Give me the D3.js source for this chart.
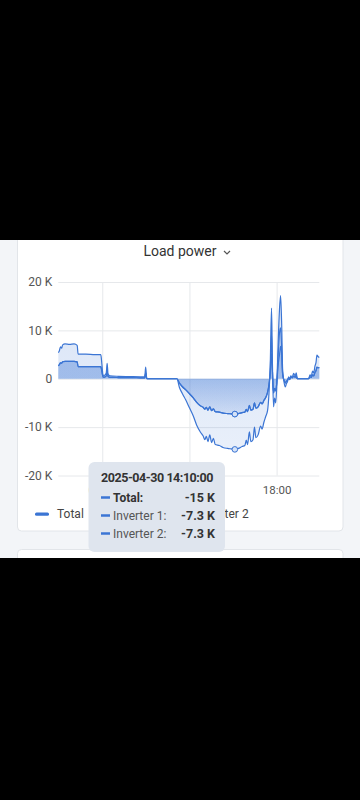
<!DOCTYPE html>
<html><head><meta charset="utf-8">
<script src="https://cdn.jsdelivr.net/npm/d3@7"></script>
<style>
html,body{margin:0;padding:0;background:#000;}
svg{display:block;font-family:Roboto,"Noto Sans",sans-serif;}
</style></head><body>
<svg id="c" width="360" height="800"></svg>
<script>
// ---- data (W) ----
const times = [
"2025-04-29 21:58","2025-04-29 22:04","2025-04-29 22:10","2025-04-29 22:16","2025-04-29 22:22","2025-04-29 22:35",
"2025-04-29 23:00","2025-04-29 23:25","2025-04-29 23:42","2025-04-29 23:47","2025-04-30 00:30","2025-04-30 01:20",
"2025-04-30 01:52","2025-04-30 01:58","2025-04-30 02:04","2025-04-30 02:12","2025-04-30 02:22","2025-04-30 02:27",
"2025-04-30 02:32","2025-04-30 02:42","2025-04-30 03:30","2025-04-30 04:30","2025-04-30 05:30","2025-04-30 05:54",
"2025-04-30 05:59","2025-04-30 06:05","2025-04-30 06:10","2025-04-30 08:51","2025-04-30 09:05","2025-04-30 09:20",
"2025-04-30 09:40","2025-04-30 10:00","2025-04-30 10:20","2025-04-30 10:40","2025-04-30 11:00","2025-04-30 11:15",
"2025-04-30 11:25","2025-04-30 11:33","2025-04-30 11:42","2025-04-30 11:52","2025-04-30 12:02","2025-04-30 12:12",
"2025-04-30 12:22","2025-04-30 12:45","2025-04-30 13:05","2025-04-30 13:30","2025-04-30 13:50","2025-04-30 14:10",
"2025-04-30 14:30","2025-04-30 14:50","2025-04-30 15:05","2025-04-30 15:13","2025-04-30 15:20","2025-04-30 15:30",
"2025-04-30 15:38","2025-04-30 15:50","2025-04-30 15:58","2025-04-30 16:06","2025-04-30 16:18","2025-04-30 16:32",
"2025-04-30 16:40","2025-04-30 16:50","2025-04-30 17:00","2025-04-30 17:10","2025-04-30 17:18","2025-04-30 17:25",
"2025-04-30 17:32","2025-04-30 17:37","2025-04-30 17:43","2025-04-30 17:49","2025-04-30 17:55","2025-04-30 18:02",
"2025-04-30 18:09","2025-04-30 18:16","2025-04-30 18:22","2025-04-30 18:28","2025-04-30 18:33","2025-04-30 18:40",
"2025-04-30 18:48","2025-04-30 18:54","2025-04-30 19:00","2025-04-30 19:06","2025-04-30 19:12","2025-04-30 19:18",
"2025-04-30 19:26","2025-04-30 19:34","2025-04-30 19:42","2025-04-30 19:48","2025-04-30 19:54","2025-04-30 20:56",
"2025-04-30 21:04","2025-04-30 21:11","2025-04-30 21:18","2025-04-30 21:24","2025-04-30 21:31","2025-04-30 21:37",
"2025-04-30 21:42","2025-04-30 21:48","2025-04-30 21:55"];
const total = [
5400,5800,6600,6300,7000,7200,
7100,7200,6900,5100,5100,5000,
5000,3000,800,700,1200,3200,
900,600,500,450,400,400,
2400,100,0,0,-1800,-3000,
-4400,-6000,-7600,-9600,-11000,-11800,
-12600,-11900,-13000,-11600,-13200,-12300,
-13600,-13800,-14200,-14400,-14500,-14600,
-14400,-14000,-13800,-12700,-13600,-11000,
-13000,-12600,-10000,-12200,-11600,-9800,
-10400,-9000,-7800,-6600,-3000,3000,
14600,3000,-5800,-4000,-5000,-500,
8000,14500,17200,11000,2000,-500,
-1700,-1000,-600,400,-200,600,
400,1100,600,1200,0,0,
800,600,1600,1200,2600,3400,
4900,4600,4400];
const inverter1 = [
2700,2900,3300,3200,3500,3600,
3600,3600,3500,2500,2500,2500,
2500,1500,400,350,600,1600,
450,300,250,220,200,200,
1200,50,0,0,-900,-1600,
-2300,-3100,-3900,-4900,-5600,-5900,
-6300,-5900,-6500,-5800,-6600,-6200,
-6800,-6900,-7100,-7200,-7250,-7300,
-7200,-7000,-6900,-6300,-6800,-5500,
-6500,-6300,-5000,-6100,-5800,-4900,
-5200,-4500,-3900,-2800,-1200,1800,
9400,1500,-2900,-2000,-2500,-250,
5000,9500,10500,6000,1000,-250,
-850,-500,-300,200,-100,300,
200,550,300,600,0,0,
400,300,800,600,1300,1700,
2400,2300,2300];
const inverter2 = [
2700,2900,3300,3200,3500,3600,
3600,3600,3500,2500,2500,2500,
2500,1500,400,350,600,1600,
450,300,250,220,200,200,
1200,50,0,0,-900,-1600,
-2300,-3100,-3900,-4900,-5600,-5900,
-6300,-5900,-6500,-5800,-6600,-6200,
-6800,-6900,-7100,-7200,-7250,-7300,
-7200,-7000,-6900,-6300,-6800,-5500,
-6500,-6300,-5000,-6100,-5800,-4900,
-5200,-4500,-3900,-2800,-1200,1200,
5200,1500,-2900,-2000,-2500,-250,
3000,5000,6700,5000,1000,-250,
-850,-500,-300,200,-100,300,
200,550,300,600,0,0,
400,300,800,600,1300,1700,
2400,2300,2300];
const seriesNames = ["Total","Inverter 1","Inverter 2"];
const yTicks = [-20000,-10000,0,10000,20000];
const xTicks = ["2025-04-30 02:00","2025-04-30 10:00","2025-04-30 18:00"];
const xDomain = ["2025-04-29 21:58","2025-04-30 21:55"];
const tooltipTime = "2025-04-30 14:10";
const chartTitle = "Load power";

// ---- setup ----
const parse = d3.timeParse("%Y-%m-%d %H:%M");
const loc = d3.formatLocale({decimal:".",thousands:",",grouping:[3],currency:["",""],minus:"-"});
const fmtTick = v => loc.format("~s")(v).replace("k"," K");
const fmtVal = v => loc.format(".2s")(v).replace("k"," K");
const COLOR = "#3b75d4";

const svg = d3.select("#c");
svg.append("rect").attr("width",360).attr("height",800).attr("fill","#f3f5f8");
svg.append("rect").attr("x",17.5).attr("y",200).attr("width",325.5).attr("height",331)
  .attr("rx",4).attr("fill","#fff").attr("stroke","#e2e5e9");
svg.append("rect").attr("x",17.5).attr("y",549.5).attr("width",325.5).attr("height",120)
  .attr("rx",4).attr("fill","#fff").attr("stroke","#e2e5e9");

// title
svg.append("text").attr("x",180).attr("y",255.5).attr("text-anchor","middle")
  .attr("font-size",14).attr("font-weight",400).attr("fill","#333").text(chartTitle);
svg.append("path").attr("d","M224,251 L227,254 L230,251").attr("fill","none")
  .attr("stroke","#555").attr("stroke-width",1.2);

const L = 58.3, R = 319.3, T = 282, B = 475.5;
const x = d3.scaleTime().domain(xDomain.map(parse)).range([L,R]);
const y = d3.scaleLinear().domain([-20000,20000]).range([B,T]);

const data = times.map((t,i)=>({t:parse(t), total:total[i], inv1:inverter1[i], inv2:inverter2[i]}));

// grid / axes
const gy = svg.append("g").attr("transform",`translate(${L},0)`)
  .call(d3.axisLeft(y).tickValues(yTicks).tickFormat(fmtTick).tickSize(-(R-L)).tickPadding(6));
gy.select(".domain").remove();
gy.selectAll("line").attr("stroke","#e6e8eb");
gy.selectAll("text").attr("font-size",12).attr("fill","#555").attr("font-family","Roboto");

const gx = svg.append("g").attr("transform",`translate(0,${B})`)
  .call(d3.axisBottom(x).tickValues(xTicks.map(parse)).tickFormat(d3.timeFormat("%H:%M")).tickSize(-(B-T)).tickPadding(10.5));
gx.select(".domain").remove();
gx.selectAll("line").attr("stroke","#e6e8eb");
gx.selectAll("text").attr("font-size",11.5).attr("fill","#555").attr("font-family","Roboto");

// gradients
const defs = svg.append("defs");
const g1 = defs.append("linearGradient").attr("id","gTot").attr("gradientUnits","userSpaceOnUse")
  .attr("x1",0).attr("x2",0).attr("y1",T).attr("y2",B);
[[0,0.2],[1,0.1]].forEach(s=>g1.append("stop").attr("offset",s[0]).attr("stop-color",COLOR).attr("stop-opacity",s[1]));
const g2 = defs.append("linearGradient").attr("id","gInv").attr("gradientUnits","userSpaceOnUse")
  .attr("x1",0).attr("x2",0).attr("y1",T).attr("y2",B);
[[0,0.2],[0.5,0.22],[0.66,0.09],[0.76,0.03],[1,0]].forEach(s=>g2.append("stop").attr("offset",s[0]).attr("stop-color",COLOR).attr("stop-opacity",s[1]));

const curve = d3.curveMonotoneX;
const area = key => d3.area().x(d=>x(d.t)).y0(y(0)).y1(d=>y(d[key])).curve(curve);
const line = key => d3.line().x(d=>x(d.t)).y(d=>y(d[key])).curve(curve);

svg.append("path").datum(data).attr("d",area("total")).attr("fill","url(#gTot)");
svg.append("path").datum(data).attr("d",area("inv1")).attr("fill","url(#gInv)");
svg.append("path").datum(data).attr("d",area("inv2")).attr("fill","url(#gInv)");
["inv2","inv1","total"].forEach(k=>{
  svg.append("path").datum(data).attr("d",line(k)).attr("fill","none")
    .attr("stroke",COLOR).attr("stroke-width",1.2).attr("stroke-linejoin","round");
});

// hover markers
const tp = parse(tooltipTime);
const hd = data.find(d=>+d.t===+tp);
["total","inv1","inv2"].forEach(k=>{
  svg.append("circle").attr("cx",x(hd.t)).attr("cy",y(hd[k])).attr("r",2.8)
    .attr("fill","#d6e3f7").attr("stroke",COLOR).attr("stroke-width",1);
});

// legend
let lx = 35;
seriesNames.forEach(n=>{
  svg.append("rect").attr("x",lx).attr("y",512.5).attr("width",14).attr("height",3.2).attr("rx",1.5).attr("fill",COLOR);
  const t = svg.append("text").attr("x",lx+22).attr("y",518.3).attr("font-size",12).attr("fill","#444").text(n);
  lx += 22 + t.node().getComputedTextLength() + 10;
});

// tooltip
const tg = svg.append("g");
tg.append("rect").attr("x",88.5).attr("y",462).attr("width",136.5).attr("height",90).attr("rx",6).attr("fill","#dfe5ee");
tg.append("text").attr("x",101).attr("y",482).attr("font-size",12.5).attr("font-weight",700)
  .attr("letter-spacing",-0.45).attr("fill","#333").text(d3.timeFormat("%Y-%m-%d %H:%M:%S")(hd.t));
const rows = [[seriesNames[0],hd.total,true],[seriesNames[1],hd.inv1,false],[seriesNames[2],hd.inv2,false]];
rows.forEach((r,i)=>{
  const by = 502 + i*18;
  tg.append("line").attr("x1",101).attr("x2",110).attr("y1",by-4.5).attr("y2",by-4.5)
    .attr("stroke",COLOR).attr("stroke-width",2.5);
  tg.append("text").attr("x",113).attr("y",by).attr("font-size",12)
    .attr("font-weight",r[2]?700:400).attr("fill",r[2]?"#333":"#555").text(r[0]+":");
  tg.append("text").attr("x",215).attr("y",by).attr("text-anchor","end").attr("font-size",12.5)
    .attr("font-weight",700).attr("fill","#333").text(fmtVal(r[1]));
});

// device frame (black bars)
svg.append("rect").attr("x",0).attr("y",0).attr("width",360).attr("height",240).attr("fill","#000");
svg.append("rect").attr("x",0).attr("y",558).attr("width",360).attr("height",242).attr("fill","#000");
</script>
</body></html>
